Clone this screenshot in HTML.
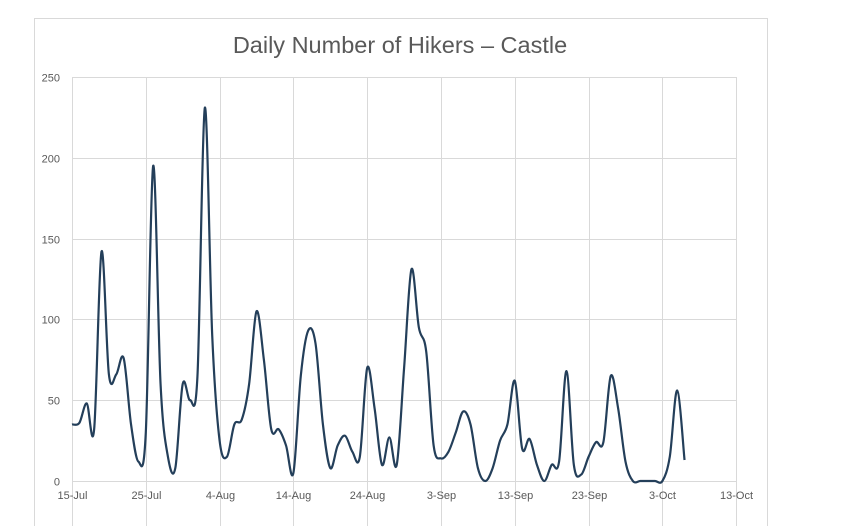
<!DOCTYPE html>
<html><head><meta charset="utf-8"><style>
html,body{margin:0;padding:0;background:#fff;}
svg{display:block;font-family:"Liberation Sans",sans-serif;}
</style></head><body>
<svg id="s" width="857" height="526" xmlns="http://www.w3.org/2000/svg">
<rect x="34.5" y="18.5" width="733" height="520" fill="#fff" stroke="#d9d9d9"/>
<text x="400" y="53" font-size="23.5" fill="#595959" text-anchor="middle">Daily Number of Hikers – Castle</text>
<g id="grid" stroke="#d9d9d9" stroke-width="1"></g>
<g id="lab" font-size="11" fill="#595959"></g>
<path id="line" fill="none" stroke="#243f5a" stroke-width="2.2" stroke-linejoin="round"/>
</svg>
<script>
var x0=72,dx=7.38,y0=481,sy=404/250;
var g=document.getElementById('grid'),l=document.getElementById('lab'),ns='http://www.w3.org/2000/svg';
function el(p,t,a,txt){var e=document.createElementNS(ns,t);for(var k in a)e.setAttribute(k,a[k]);if(txt)e.textContent=txt;p.appendChild(e);}
for(var i=0;i<=5;i++){var y=Math.round(y0-i*50*sy)+0.5;el(g,'line',{x1:72,x2:736,y1:y,y2:y});el(l,'text',{x:60,y:y+4,'text-anchor':'end'},String(i*50));}
var dl=['15-Jul','25-Jul','4-Aug','14-Aug','24-Aug','3-Sep','13-Sep','23-Sep','3-Oct','13-Oct'];
for(var i=0;i<10;i++){var x=Math.round(x0+i*73.8)+0.5;el(g,'line',{x1:x,x2:x,y1:77,y2:526});el(l,'text',{x:x,y:499,'text-anchor':'middle'},dl[i]);}
var v=[35,36,48,32,142,66,66,76,35,12,30,195,60,15,8,60,50,65,231,90,25,15,35,38,60,105,75,32,32,22,5,65,93,85,35,8,22,28,18,15,70,45,10,27,10,70,131,95,80,22,14,18,30,43,35,8,0,8,25,35,62,20,26,10,0,10,12,68,10,4,15,24,24,65,45,12,0,0,0,0,0,15,56,13];
var P=v.map(function(a,i){return[x0+i*dx,y0-a*sy];});
var d='M'+P[0][0]+','+P[0][1];
for(var i=0;i<P.length-1;i++){var p0=P[Math.max(i-1,0)],p1=P[i],p2=P[i+1],p3=P[Math.min(i+2,P.length-1)];
var c1=[p1[0]+(p2[0]-p0[0])/6,p1[1]+(p2[1]-p0[1])/6],c2=[p2[0]-(p3[0]-p1[0])/6,p2[1]-(p3[1]-p1[1])/6];
d+=' C'+c1.join(',')+' '+c2.join(',')+' '+p2.join(',');}
document.getElementById('line').setAttribute('d',d);
</script>
</body></html>
